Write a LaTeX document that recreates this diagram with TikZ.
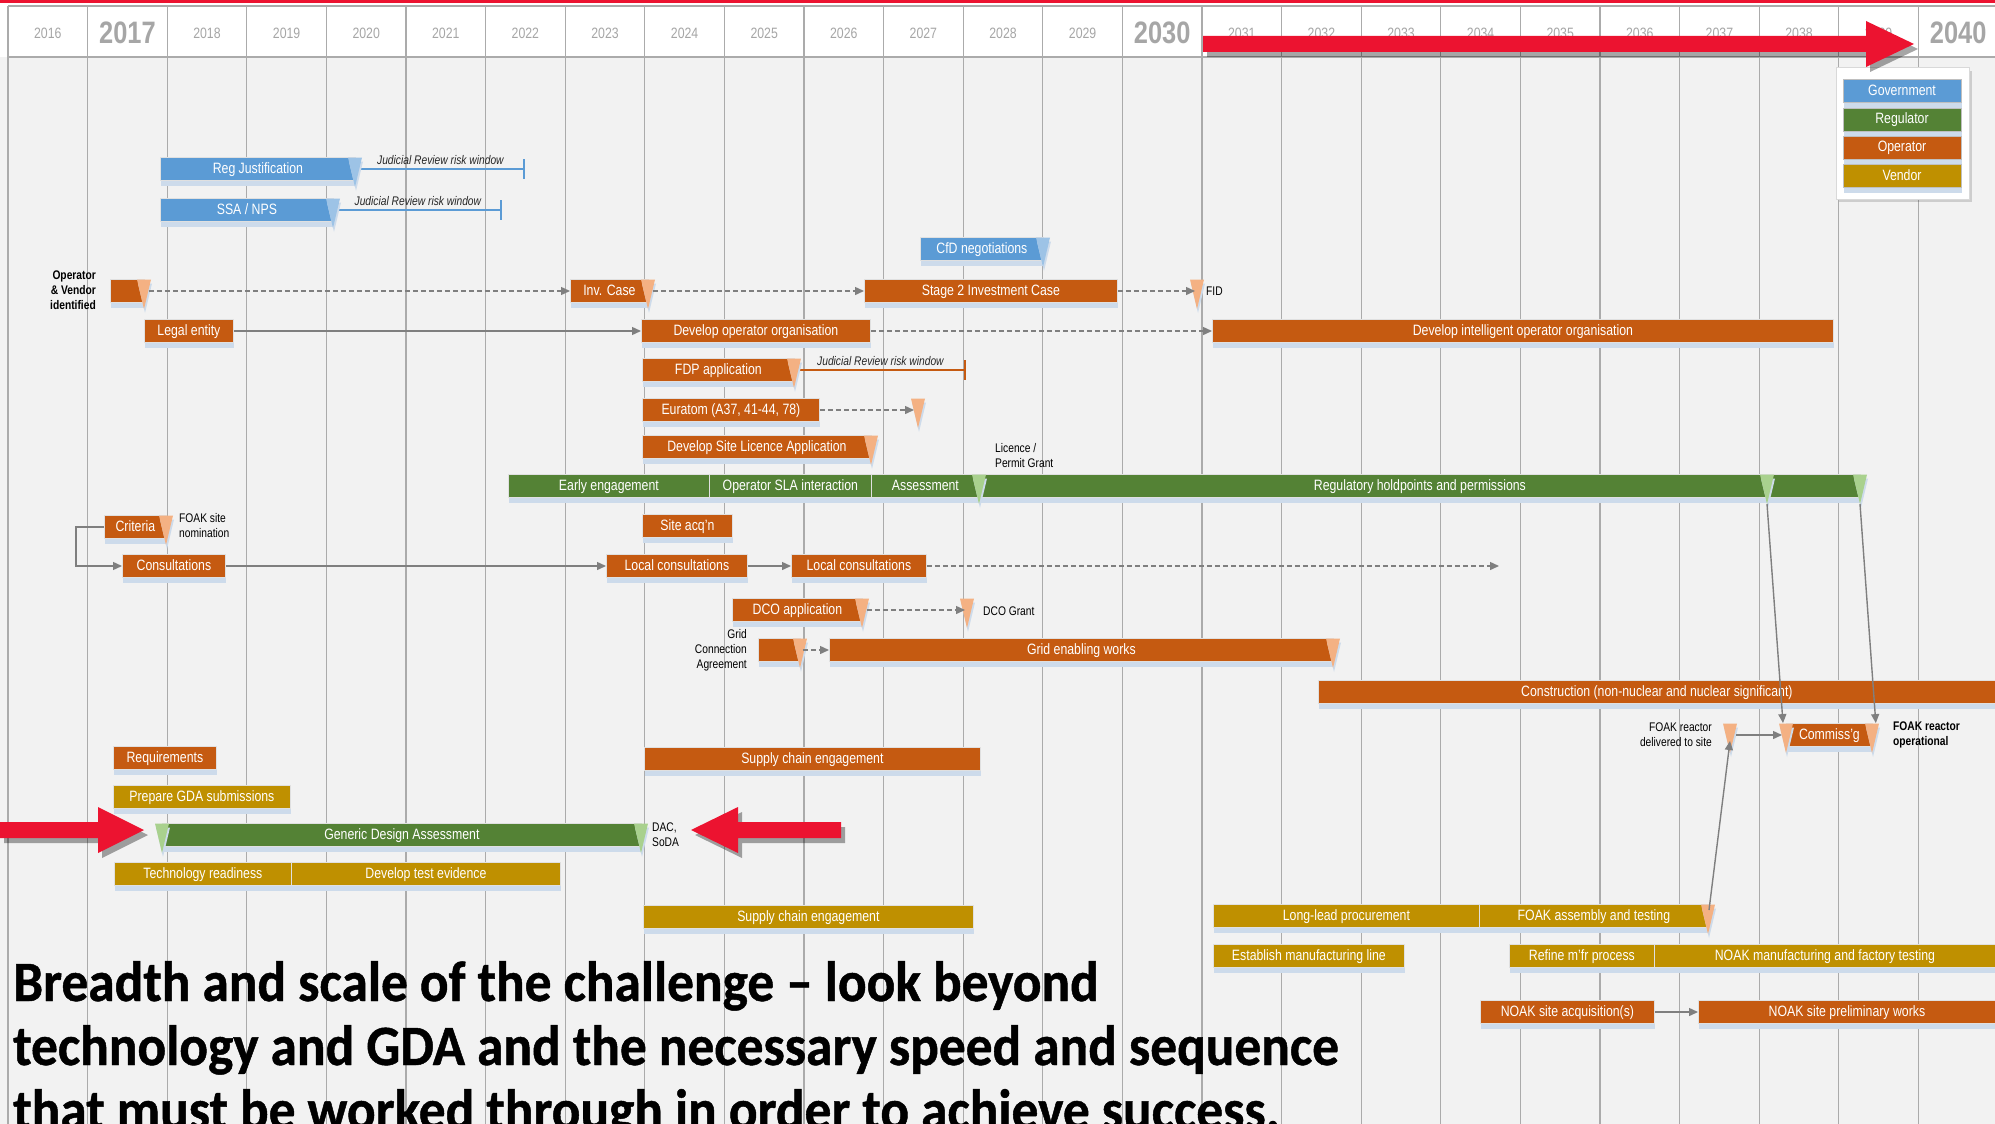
\documentclass[tikz,border=0pt]{standalone}
\usepackage{fontspec}
\setmainfont{Liberation Sans}[FakeStretch=0.82]
\newfontfamily\headfont{Carlito}[FakeStretch=0.936, BoldFeatures={FakeBold=0.8}]
\usetikzlibrary{arrows.meta,shadows}

\definecolor{govblue}{HTML}{5B9BD5}
\definecolor{govlight}{HTML}{9DC3E6}
\definecolor{regreen}{HTML}{548235}
\definecolor{reglight}{HTML}{A9D18E}
\definecolor{oporange}{HTML}{C55A11}
\definecolor{oplight}{HTML}{F4B183}
\definecolor{vengold}{HTML}{BF9000}
\definecolor{bodygray}{HTML}{F2F2F2}
\definecolor{gridgray}{HTML}{ABABAB}
\definecolor{lnkgray}{HTML}{7F7F7F}
\definecolor{shblue}{HTML}{CDDBEB}
\definecolor{hotred}{HTML}{EC1330}
\definecolor{yeargray}{HTML}{A6A6A6}

\newcommand\chartfont{\fontsize{15}{18}\selectfont}
\newcommand\notefont{\fontsize{12.5}{15}\selectfont}

\tikzset{
  ganttbar/.style={draw=black!12, line width=0.8pt, text=white, font=\chartfont,
    minimum height=23pt, inner xsep=0pt, inner ysep=0pt, text height=11pt, text depth=2.5pt,
    drop shadow={fill=shblue, opacity=1, shadow xshift=1pt, shadow yshift=-5pt}},
  govbar/.style={ganttbar, fill=govblue},
  opbar/.style={ganttbar, fill=oporange},
  regbar/.style={ganttbar, fill=regreen},
  venbar/.style={ganttbar, fill=vengold},
  msshade/.style={drop shadow={fill=shblue, opacity=1, shadow xshift=1pt, shadow yshift=-4pt}},
  redshade/.style={drop shadow={fill=black, opacity=0.35, shadow xshift=4pt, shadow yshift=-5pt}},
  gridln/.style={draw=gridgray, line width=1.1pt},
  yearlbl/.style={text=yeargray, font=\fontsize{15}{18}\selectfont},
  bigyear/.style={text=yeargray, font=\bfseries\fontsize{31}{36}\selectfont},
  link/.style={draw=lnkgray, line width=1.4pt, -{Triangle[length=9pt,width=8pt]}},
  dlink/.style={link, dash pattern=on 5pt off 3pt},
  jr/.style={draw=#1, line width=2.5pt, -{Bar[width=20pt]}},
  jrlbl/.style={above=3pt, font=\itshape\notefont, text=black!85, inner sep=0pt},
  note/.style={font=\notefont, text=black, inner sep=1pt},
  notebold/.style={note, font=\bfseries\notefont},
  legbox/.style={fill=white, draw=black!15, line width=1pt, minimum width=133pt, minimum height=131pt,
    drop shadow={fill=black, opacity=0.15, shadow xshift=3pt, shadow yshift=-3pt}},
  legitem/.style={minimum width=118pt, draw=black!25},
  titletxt/.style={anchor=base west, inner sep=0pt, font={\headfont\bfseries\fontsize{57}{63}\selectfont}}
}

% bar: name, start x, end x, row y, style, text
\newcommand\gbar[6]{%
  \pgfmathsetmacro\barw{#3-#2}
  \node[#5, minimum width=\barw pt, anchor=west] (#1) at (#2,#4) {#6};
}
% milestone triangle: x, row y, colour
\newcommand\mstone[3]{%
  \fill[#3, msshade] (#1-7,#2-11.5) -- (#1+7,#2-11.5) -- (#1,#2+18) -- cycle;
}

\begin{document}
\begin{tikzpicture}[x=1pt,y=-1pt]
\useasboundingbox (0,0) rectangle (1995,1124);
\clip (0,0) rectangle (1995,1124);

% background, header and year columns
\fill[bodygray] (0,0) rectangle (1995,1124);
\fill[white] (0,3) rectangle (1995,57);
\fill[hotred] (0,0) rectangle (1995,3);
\draw[gridln] (8,6) -- (1995,6) (8,57) -- (1995,57);
\foreach \k in {0,...,24}
  \draw[gridln] ({8+79.6*\k},6) -- ({8+79.6*\k},1124);
\foreach \k in {0,...,24}{
  \pgfmathtruncatemacro\yr{2016+\k}
  \ifnum\k=1 \def\ys{bigyear}\else\ifnum\k=14 \def\ys{bigyear}\else
    \ifnum\k=24 \def\ys{bigyear}\else\def\ys{yearlbl}\fi\fi\fi
  \node[\ys] (yr\yr) at ({47.8+79.6*\k},33) {\yr};
}

% government
\gbar{regj}{160}{355}{169}{govbar}{Reg Justification}
\gbar{ssa}{160}{333}{210}{govbar}{SSA / NPS}
\gbar{cfd}{920}{1043}{249}{govbar}{CfD negotiations}

% operator
\gbar{ovid}{110}{144}{291}{opbar}{}
\gbar{inv}{570}{648}{291}{opbar}{Inv. Case}
\gbar{stage2}{864}{1117}{291}{opbar}{Stage 2 Investment Case}
\gbar{legal}{144}{233}{331}{opbar}{Legal entity}
\gbar{devop}{641}{870}{331}{opbar}{Develop operator organisation}
\gbar{devint}{1212}{1833}{331}{opbar}{Develop intelligent operator organisation}
\gbar{fdp}{642}{794}{370}{opbar}{FDP application}
\gbar{euratom}{642}{819}{410}{opbar}{Euratom (A37, 41-44, 78)}
\gbar{dsla}{642}{871}{447}{opbar}{Develop Site Licence Application}
\gbar{criteria}{104}{166}{527}{opbar}{Criteria}
\gbar{siteacq}{642}{732}{526}{opbar}{Site acq'n}
\gbar{consult}{122}{225}{566}{opbar}{Consultations}
\gbar{localc1}{606}{747}{566}{opbar}{Local consultations}
\gbar{localc2}{791}{926}{566}{opbar}{Local consultations}
\gbar{dco}{732}{862}{610}{opbar}{DCO application}
\gbar{gca}{758}{800}{650}{opbar}{}
\gbar{gew}{829}{1333}{650}{opbar}{Grid enabling works}
\gbar{constr}{1318}{1995}{692}{opbar}{Construction (non-nuclear and nuclear significant)}
\gbar{commis}{1786}{1872}{735}{opbar}{Commiss'g}
\gbar{reqs}{113}{216}{758}{opbar}{Requirements}
\gbar{scop}{644}{980}{759}{opbar}{Supply chain engagement}
\gbar{noakacq}{1480}{1654}{1012}{opbar}{NOAK site acquisition(s)}
\gbar{noakpw}{1698}{1995}{1012}{opbar}{NOAK site preliminary works}

% regulator
\gbar{early}{508}{709}{486}{regbar}{Early engagement}
\gbar{sla}{709}{871}{486}{regbar}{Operator SLA interaction}
\gbar{assess}{871}{979}{486}{regbar}{Assessment}
\gbar{holdp}{979}{1860}{486}{regbar}{Regulatory holdpoints and permissions}
\gbar{gda}{162}{641}{835}{regbar}{Generic Design Assessment}

% vendor
\gbar{prepgda}{113}{290}{797}{venbar}{Prepare GDA submissions}
\gbar{techrd}{114}{291}{874}{venbar}{Technology readiness}
\gbar{devtest}{291}{560}{874}{venbar}{Develop test evidence}
\gbar{scv}{643}{973}{917}{venbar}{Supply chain engagement}
\gbar{longlead}{1213}{1479}{916}{venbar}{Long-lead procurement}
\gbar{foakasm}{1479}{1708}{916}{venbar}{FOAK assembly and testing}
\gbar{estab}{1213}{1404}{956}{venbar}{Establish manufacturing line}
\gbar{refine}{1509}{1654}{956}{venbar}{Refine m'fr process}
\gbar{noakmf}{1654}{1995}{956}{venbar}{NOAK manufacturing and factory testing}

% judicial review windows
\coordinate (regj-end) at (525,169);
\coordinate (ssa-end) at (502,210);
\coordinate (fdp-end) at (966,370);
\draw[jr=govblue] (regj.east) -- node[jrlbl] (regj-jrl) {Judicial Review risk window} (regj-end);
\draw[jr=govblue] (ssa.east) -- node[jrlbl] (ssa-jrl) {Judicial Review risk window} (ssa-end);
\draw[jr=oporange] (fdp.east) -- node[jrlbl] (fdp-jrl) {Judicial Review risk window} (fdp-end);

% milestones
\mstone{355}{169}{govlight}
\mstone{333}{210}{govlight}
\mstone{1043}{249}{govlight}
\mstone{144}{291}{oplight}
\mstone{648}{291}{oplight}
\mstone{1197}{291}{oplight}
\mstone{794}{370}{oplight}
\mstone{918}{410}{oplight}
\mstone{871}{447}{oplight}
\mstone{979}{486}{reglight}
\mstone{1767}{486}{reglight}
\mstone{1860}{486}{reglight}
\mstone{166}{527}{oplight}
\mstone{862}{610}{oplight}
\mstone{967}{610}{oplight}
\mstone{800}{650}{oplight}
\mstone{1333}{650}{oplight}
\mstone{1730}{735}{oplight}
\mstone{1786}{735}{oplight}
\mstone{1872}{735}{oplight}
\mstone{162}{835}{reglight}
\mstone{641}{835}{reglight}
\mstone{1708}{916}{oplight}

% connectors
\coordinate (fid) at (1197,291);
\coordinate (euratom-ms) at (918,410);
\coordinate (dcogrant) at (967,610);
\coordinate (hold-ms) at (1767,504);
\coordinate (hold-end) at (1860,504);
\coordinate (foakdel) at (1730,735);
\coordinate (foakasm-ms) at (1709,910);
\coordinate (consult-end) at (1499,566);
\draw[dlink] ([xshift=4pt]ovid.east) -- (inv.west);
\draw[dlink] ([xshift=4pt]inv.east) -- (stage2.west);
\draw[dlink] (stage2.east) -- ([xshift=-2pt]fid);
\draw[link] (legal.east) -- (devop.west);
\draw[dlink] (devop.east) -- (devint.west);
\draw[dlink] (euratom.east) -- ([xshift=-4pt]euratom-ms);
\draw[link] (criteria.west) -- ++(-28,0) |- (consult.west);
\draw[link] (consult.east) -- (localc1.west);
\draw[link] (localc1.east) -- (localc2.west);
\draw[dlink] (localc2.east) -- (consult-end);
\draw[dlink] ([xshift=4pt]dco.east) -- ([xshift=-2pt]dcogrant);
\draw[dlink] ([xshift=2pt]gca.east) -- (gew.west);
\draw[link] (hold-ms) -- ([xshift=-3pt]commis.north west);
\draw[link] (hold-end) -- ([xshift=3pt]commis.north east);
\draw[link] (foakasm-ms) -- ([shift={(0,6)}]foakdel);
\draw[link] ([xshift=6pt]foakdel) -- ([xshift=-4pt]commis.west);
\draw[link] (noakacq.east) -- (noakpw.west);

% notes
\node[notebold, align=right, anchor=east] (ovid-lbl) at (97,290) {Operator\\\& Vendor\\identified};
\node[note, anchor=west] (fid-lbl) at (1205,291) {FID};
\node[note, align=left, anchor=west] (lic-lbl) at (994,456) {Licence /\\Permit Grant};
\node[note, align=left, anchor=west] (site-lbl) at (178,526) {FOAK site\\nomination};
\node[note, anchor=west] (dco-lbl) at (982,611) {DCO Grant};
\node[note, align=right, anchor=east] (gca-lbl) at (748,650) {Grid\\Connection\\Agreement};
\node[note, align=right, anchor=east] (del-lbl) at (1713,735) {FOAK reactor\\delivered to site};
\node[notebold, align=left, anchor=west] (opr-lbl) at (1892,735) {FOAK reactor\\operational};
\node[note, align=left, anchor=west] (dac-lbl) at (651,835) {DAC,\\SoDA};

% legend
\node[legbox] (legend) at (1902.5,133.5) {};
\node[govbar, legitem] (leg-gov) at (1902,91) {Government};
\node[regbar, legitem] (leg-reg) at (1902,119.5) {Regulator};
\node[opbar, legitem] (leg-op) at (1902,147.5) {Operator};
\node[venbar, legitem] (leg-ven) at (1902,176) {Vendor};

% title
\node[titletxt] (title1) at (13,1001) {Breadth and scale of the challenge – look beyond};
\node[titletxt] (title2) at (13,1065) {technology and GDA and the necessary speed and sequence};
\node[titletxt] (title3) at (13,1129) {that must be worked through in order to achieve success.};

% red arrows
\fill[hotred, redshade] (1203,36) -- (1866,36) -- (1866,21) -- (1914,44) -- (1866,67) -- (1866,52) -- (1203,52) -- cycle;
\fill[hotred, redshade] (0,822) -- (98,822) -- (98,807) -- (144,830) -- (98,853) -- (98,838) -- (0,838) -- cycle;
\fill[hotred, redshade] (841,822) -- (738,822) -- (738,807) -- (691,830) -- (738,853) -- (738,838) -- (841,838) -- cycle;
\end{tikzpicture}
\end{document}
